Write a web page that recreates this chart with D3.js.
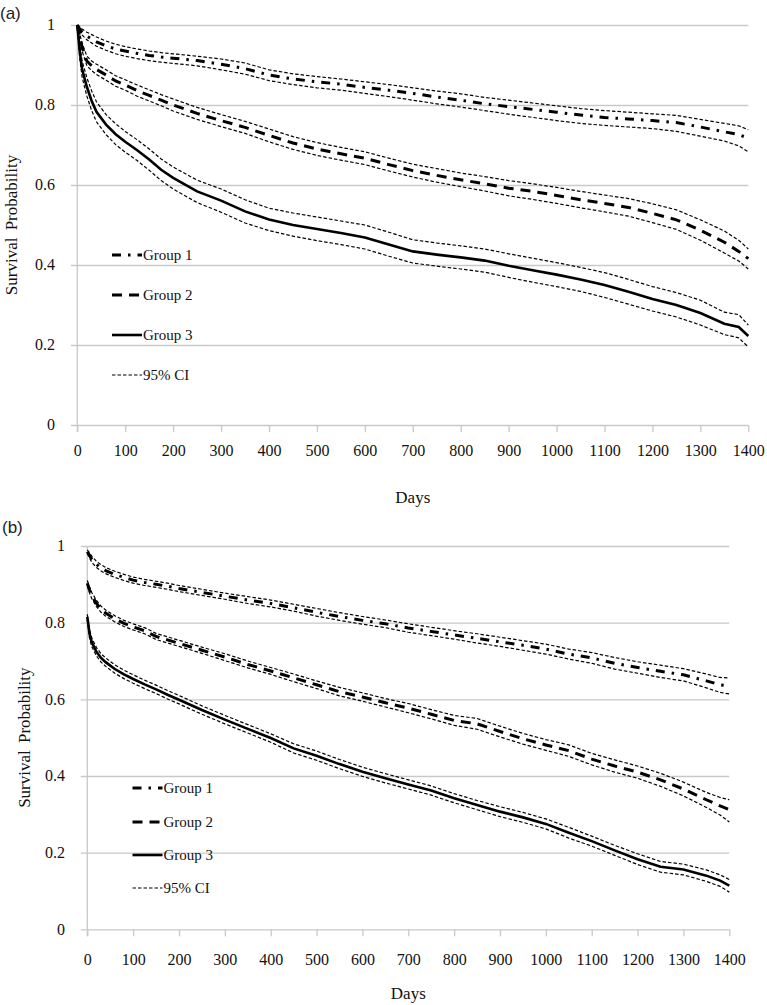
<!DOCTYPE html>
<html><head><meta charset="utf-8">
<script src="https://cdn.jsdelivr.net/npm/d3@7"></script>
<style>body{margin:0;background:#fff} svg{display:block}</style>
</head><body>
<svg id="c" width="767" height="1005"></svg>
<script>
// ---- data ----
const days = [0,5,10,20,30,40,60,80,100,125,150,175,200,250,300,350,400,450,500,550,600,650,700,750,800,850,900,950,1000,1050,1100,1150,1200,1250,1300,1350,1380,1400];
const xTicks = [0,100,200,300,400,500,600,700,800,900,1000,1100,1200,1300,1400];
const yTicks = [0,0.2,0.4,0.6,0.8,1];
const groupNames = ["Group 1","Group 2","Group 3","95% CI"];

// Panel (a)
const a_g1    = [1.0,0.99,0.982,0.972,0.965,0.958,0.948,0.94,0.935,0.929,0.924,0.92,0.917,0.911,0.902,0.891,0.875,0.865,0.858,0.852,0.844,0.837,0.829,0.82,0.812,0.803,0.796,0.789,0.782,0.775,0.769,0.765,0.761,0.756,0.745,0.733,0.726,0.717];
const a_g1_hi = [1.0,0.995,0.99,0.982,0.976,0.97,0.96,0.952,0.946,0.94,0.935,0.931,0.928,0.922,0.915,0.905,0.888,0.878,0.871,0.865,0.858,0.851,0.843,0.835,0.828,0.819,0.812,0.805,0.798,0.791,0.786,0.782,0.778,0.774,0.764,0.754,0.748,0.738];
const a_g1_lo = [1.0,0.985,0.975,0.963,0.955,0.947,0.937,0.928,0.922,0.916,0.911,0.907,0.904,0.898,0.888,0.877,0.861,0.851,0.843,0.837,0.829,0.821,0.812,0.803,0.795,0.786,0.777,0.769,0.761,0.754,0.749,0.745,0.741,0.734,0.722,0.71,0.698,0.683];
const a_g2    = [1.0,0.97,0.945,0.91,0.898,0.889,0.875,0.86,0.85,0.836,0.824,0.812,0.8,0.779,0.761,0.744,0.724,0.705,0.69,0.678,0.667,0.651,0.636,0.624,0.613,0.603,0.592,0.584,0.574,0.563,0.554,0.544,0.529,0.513,0.487,0.457,0.434,0.416];
const a_g2_hi = [1.0,0.978,0.955,0.922,0.91,0.902,0.888,0.873,0.863,0.85,0.838,0.826,0.815,0.794,0.776,0.759,0.74,0.721,0.706,0.694,0.683,0.667,0.652,0.641,0.63,0.621,0.611,0.603,0.594,0.584,0.575,0.566,0.553,0.538,0.513,0.485,0.462,0.44];
const a_g2_lo = [1.0,0.962,0.935,0.898,0.886,0.876,0.862,0.847,0.837,0.822,0.81,0.798,0.785,0.764,0.746,0.729,0.708,0.689,0.674,0.662,0.651,0.635,0.62,0.607,0.596,0.585,0.573,0.564,0.554,0.543,0.533,0.522,0.506,0.489,0.462,0.43,0.41,0.39];
const a_g3    = [1.0,0.935,0.89,0.845,0.81,0.783,0.751,0.727,0.708,0.687,0.664,0.638,0.618,0.584,0.561,0.534,0.514,0.5,0.49,0.48,0.469,0.451,0.434,0.426,0.419,0.411,0.398,0.387,0.376,0.364,0.35,0.333,0.315,0.3,0.28,0.253,0.245,0.2225];
const a_g3_hi = [1.0,0.95,0.91,0.868,0.835,0.808,0.776,0.753,0.734,0.713,0.69,0.665,0.645,0.612,0.59,0.563,0.542,0.53,0.52,0.51,0.5,0.482,0.463,0.455,0.448,0.44,0.428,0.417,0.406,0.394,0.381,0.364,0.346,0.331,0.312,0.282,0.276,0.25];
const a_g3_lo = [1.0,0.918,0.87,0.822,0.786,0.758,0.726,0.701,0.682,0.661,0.637,0.611,0.59,0.556,0.532,0.505,0.486,0.472,0.461,0.451,0.44,0.422,0.405,0.397,0.39,0.382,0.369,0.357,0.346,0.334,0.319,0.302,0.285,0.27,0.25,0.226,0.218,0.195];

// Panel (b)
const b_g1    = [0.985,0.975,0.965,0.952,0.943,0.936,0.926,0.918,0.911,0.905,0.9,0.895,0.889,0.879,0.869,0.859,0.85,0.839,0.827,0.816,0.806,0.797,0.786,0.777,0.768,0.759,0.75,0.741,0.731,0.718,0.708,0.694,0.683,0.673,0.664,0.648,0.638,0.635];
const b_g1_hi = [0.99,0.982,0.973,0.96,0.951,0.944,0.934,0.926,0.919,0.913,0.908,0.903,0.897,0.887,0.877,0.868,0.859,0.848,0.837,0.826,0.816,0.807,0.797,0.788,0.779,0.771,0.762,0.753,0.744,0.731,0.722,0.709,0.698,0.689,0.68,0.666,0.657,0.656];
const b_g1_lo = [0.98,0.968,0.957,0.944,0.935,0.928,0.918,0.91,0.903,0.897,0.892,0.887,0.881,0.871,0.861,0.85,0.841,0.83,0.817,0.806,0.796,0.787,0.775,0.766,0.757,0.747,0.738,0.728,0.718,0.705,0.694,0.679,0.668,0.657,0.648,0.63,0.618,0.614];
const b_g2    = [0.903,0.885,0.87,0.85,0.835,0.825,0.81,0.798,0.789,0.779,0.764,0.755,0.746,0.728,0.71,0.691,0.674,0.656,0.638,0.62,0.606,0.591,0.577,0.561,0.545,0.536,0.516,0.497,0.481,0.466,0.444,0.426,0.41,0.39,0.366,0.338,0.322,0.312];
const b_g2_hi = [0.91,0.893,0.878,0.858,0.843,0.833,0.818,0.806,0.797,0.787,0.772,0.763,0.754,0.736,0.719,0.7,0.683,0.666,0.648,0.631,0.617,0.602,0.589,0.573,0.558,0.55,0.53,0.511,0.495,0.481,0.459,0.442,0.426,0.407,0.384,0.357,0.344,0.338];
const b_g2_lo = [0.896,0.877,0.862,0.842,0.827,0.817,0.802,0.79,0.781,0.771,0.756,0.747,0.738,0.72,0.701,0.682,0.665,0.646,0.628,0.609,0.595,0.58,0.565,0.549,0.532,0.522,0.502,0.483,0.467,0.451,0.429,0.41,0.394,0.373,0.348,0.318,0.298,0.28];
const b_g3    = [0.815,0.77,0.748,0.724,0.708,0.697,0.679,0.665,0.653,0.639,0.626,0.612,0.599,0.572,0.547,0.523,0.499,0.472,0.453,0.431,0.411,0.394,0.378,0.362,0.342,0.324,0.307,0.292,0.275,0.252,0.23,0.206,0.183,0.163,0.156,0.14,0.127,0.114];
const b_g3_hi = [0.822,0.782,0.759,0.735,0.719,0.708,0.69,0.676,0.664,0.65,0.637,0.623,0.61,0.583,0.558,0.534,0.51,0.484,0.465,0.443,0.423,0.406,0.39,0.374,0.354,0.336,0.32,0.305,0.288,0.266,0.243,0.219,0.197,0.177,0.17,0.155,0.142,0.13];
const b_g3_lo = [0.808,0.758,0.737,0.713,0.697,0.686,0.668,0.654,0.642,0.628,0.615,0.601,0.588,0.561,0.536,0.512,0.488,0.46,0.441,0.419,0.399,0.382,0.366,0.35,0.33,0.312,0.294,0.279,0.262,0.238,0.217,0.193,0.169,0.149,0.142,0.125,0.112,0.097];

// ---- drawing ----
const svg = d3.select('#c');
const SERIF = "'Liberation Serif','Times New Roman',serif";
const SANS = "'Liberation Sans',Arial,sans-serif";
const GRID = '#c9c9c9';

const styles = [
  {w:3, dash:'9,7,2.5,7'},
  {w:3, dash:'10,7'},
  {w:2.6, dash:null},
  {w:1.2, dash:'3.5,2'}
];

const panels = [
  {tag:'(a)', tagX:0, tagY:19, x0:77.3, x1:748.3, yTop:25, yBot:425, gridL:71, labelR:55,
   xLabBase:456, daysY:503, ylabX:17, legX:112, legY:[255,295,335,375],
   series:[[a_g1,a_g1_lo,a_g1_hi],[a_g2,a_g2_lo,a_g2_hi],[a_g3,a_g3_lo,a_g3_hi]]},
  {tag:'(b)', tagX:2, tagY:533, x0:87.3, x1:729.3, yTop:546, yBot:929.3, gridL:80.7, labelR:65,
   xLabBase:965, daysY:999, ylabX:30, legX:132.5, legY:[788,822,855,888],
   series:[[b_g1,b_g1_lo,b_g1_hi],[b_g2,b_g2_lo,b_g2_hi],[b_g3,b_g3_lo,b_g3_hi]]}
];

function serifText(sel, size) {
  sel.style('font-family', SERIF).style('font-size', size + 'px').attr('fill', '#111');
}

panels.forEach(p => {
  const g = svg.append('g');
  const x = d3.scaleLinear().domain([0,1400]).range([p.x0,p.x1]);
  const y = d3.scaleLinear().domain([0,1]).range([p.yBot,p.yTop]);

  // y axis with gridlines
  const ya = g.append('g').attr('transform',`translate(${p.gridL},0)`)
    .call(d3.axisLeft(y).tickValues(yTicks).tickSize(-(p.x1-p.gridL)).tickPadding(p.gridL-p.labelR)
      .tickFormat(d => d===0?'0':d===1?'1':d3.format('.1f')(d)));
  ya.select('.domain').remove();
  ya.selectAll('line').attr('stroke',GRID).attr('stroke-width',1.3);
  ya.selectAll('text').call(serifText, 16).attr('dy','0.3em');

  // vertical axis line
  g.append('line').attr('x1',p.x0).attr('x2',p.x0).attr('y1',p.yTop).attr('y2',p.yBot+7)
    .attr('stroke',GRID).attr('stroke-width',1.3);

  // x axis
  const xa = g.append('g').attr('transform',`translate(0,${p.yBot})`)
    .call(d3.axisBottom(x).tickValues(xTicks).tickSize(7).tickSizeOuter(0).tickFormat(d3.format('d')));
  xa.select('.domain').remove();
  xa.selectAll('line').attr('stroke',GRID).attr('stroke-width',1.3);
  xa.selectAll('text').call(serifText, 16).attr('y', p.xLabBase - p.yBot).attr('dy',0);

  // titles
  svg.append('text').attr('x',p.tagX).attr('y',p.tagY).style('font-family',SANS).style('font-size','17px').attr('fill','#222').text(p.tag);
  g.append('text').attr('x',(p.x0+p.x1)/2).attr('y',p.daysY).attr('text-anchor','middle')
    .call(serifText, 17).text('Days');
  g.append('text').attr('transform',`translate(${p.ylabX},${(p.yTop+p.yBot)/2}) rotate(-90)`)
    .attr('text-anchor','middle').call(serifText, 17)
    .attr('word-spacing','3px').text('Survival Probability');

  // lines
  const line = d3.line().x((d,i)=>x(days[i])).y(d=>y(d)).curve(d3.curveLinear);
  const ciData = p.series.flatMap(s => [s[1],s[2]]);
  g.selectAll('path.ci').data(ciData).join('path').attr('class','ci')
    .attr('d',line).attr('fill','none').attr('stroke','#000')
    .attr('stroke-width',styles[3].w).attr('stroke-dasharray',styles[3].dash);
  g.selectAll('path.main').data(p.series.map(s=>s[0])).join('path').attr('class','main')
    .attr('d',line).attr('fill','none').attr('stroke','#000')
    .attr('stroke-width',(d,i)=>styles[i].w).attr('stroke-dasharray',(d,i)=>styles[i].dash);

  // legend
  const leg = g.selectAll('g.leg').data(groupNames).join('g').attr('class','leg')
    .attr('transform',(d,i)=>`translate(${p.legX},${p.legY[i]})`);
  leg.append('line').attr('x1',0).attr('x2',30).attr('y1',0).attr('y2',0).attr('stroke','#000')
    .attr('stroke-width',(d,i)=>styles[i].w).attr('stroke-dasharray',(d,i)=>styles[i].dash);
  leg.append('text').attr('x',31).attr('y',0).attr('dy','0.33em').call(serifText, 15).text(d=>d);
});
</script>
</body></html>
